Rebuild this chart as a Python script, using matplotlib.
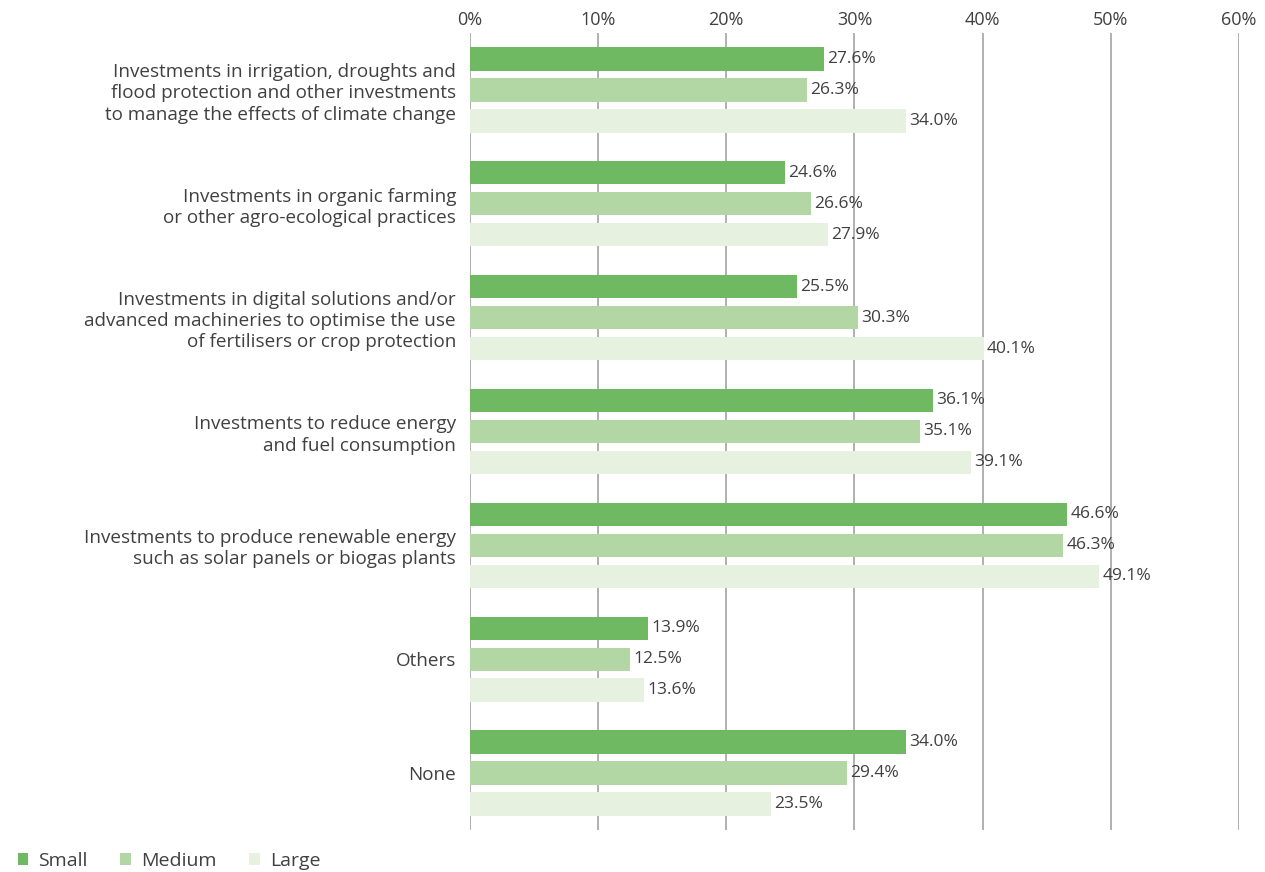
import numpy as np
import matplotlib.pyplot as plt
from matplotlib.patches import Patch

categories = [
    "Investments in irrigation, droughts and\nflood protection and other investments\nto manage the effects of climate change",
    "Investments in organic farming\nor other agro-ecological practices",
    "Investments in digital solutions and/or\nadvanced machineries to optimise the use\nof fertilisers or crop protection",
    "Investments to reduce energy\nand fuel consumption",
    "Investments to produce renewable energy\nsuch as solar panels or biogas plants",
    "Others",
    "None",
]
small = [27.6, 24.6, 25.5, 36.1, 46.6, 13.9, 34.0]
medium = [26.3, 26.6, 30.3, 35.1, 46.3, 12.5, 29.4]
large = [34.0, 27.9, 40.1, 39.1, 49.1, 13.6, 23.5]
series_names = ["Small", "Medium", "Large"]
colors = ["#70b963", "#b3d7a4", "#e6f1e0"]
xticks = [0, 10, 20, 30, 40, 50, 60]

plt.rcParams['font.family'] = ['Open Sans', 'DejaVu Sans']
txt = "#404040"

fig = plt.figure(figsize=(12.65, 8.72), dpi=100)
ax = fig.add_axes([0.3715, 0.0482, 0.6079, 0.914])

y = np.arange(len(categories))
step = 0.272
h = 0.205
for k, (vals, c) in enumerate(zip([small, medium, large], colors)):
    pos = y + (k - 1) * step
    ax.barh(pos, vals, height=h, color=c, zorder=3, label=series_names[k])
    for p, v in zip(pos, vals):
        ax.text(v + 0.25, p, f"{v:.1f}%", va="center", ha="left",
                fontsize=12.5, color=txt, zorder=4)

ax.set_xlim(0, 60)
ax.set_ylim(6.5, -0.5)
ax.set_xticks(xticks)
ax.set_xticklabels([f"{t}%" for t in xticks])
ax.xaxis.tick_top()
ax.tick_params(axis="x", length=0, pad=3, labelsize=13, labelcolor=txt)
ax.set_yticks(y)
ax.set_yticklabels(categories, fontsize=13.6, color=txt, linespacing=1.22)
ax.tick_params(axis="y", length=0, pad=10)
ax.grid(axis="x", color="#aaaaaa", linewidth=1.3, zorder=0)
for s in ax.spines.values():
    s.set_visible(False)

handles = [Patch(facecolor=c, edgecolor="none") for c in colors]
fig.legend(handles, series_names, loc="lower left", bbox_to_anchor=(0.0, -0.018),
           ncol=3, frameon=False, fontsize=14, handlelength=0.55, handleheight=0.55,
           handletextpad=0.5, columnspacing=1.7, labelcolor=txt)

fig.savefig("out.png", dpi=100)
